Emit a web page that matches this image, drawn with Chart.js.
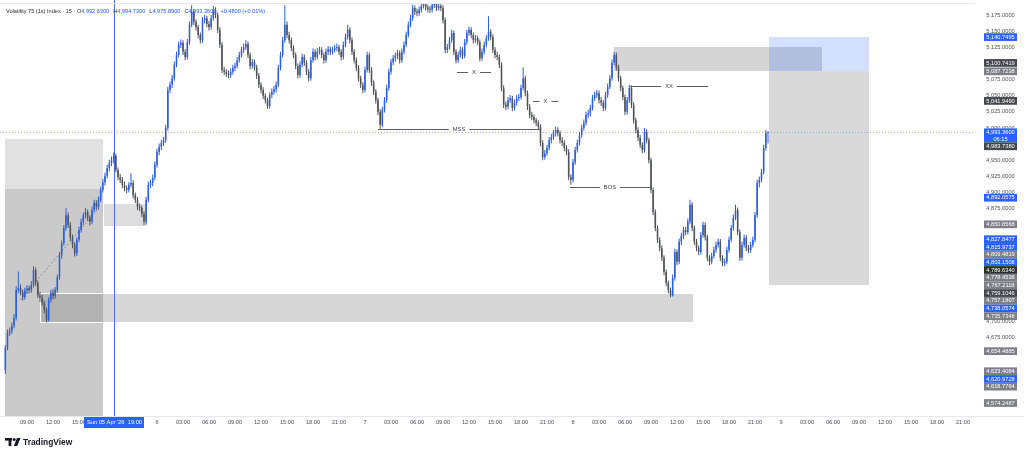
<!DOCTYPE html>
<html><head><meta charset="utf-8">
<script src="https://cdn.jsdelivr.net/npm/chart.js@4.4.1/dist/chart.umd.min.js"></script>
<style>html,body{margin:0;padding:0;background:#fff;overflow:hidden}#c{display:block}</style>
</head><body>
<canvas id="c" width="1024" height="456"></canvas>
<script>
// ---- time base: hours from Sun 05 Apr 00:00, 15-minute candles ----
const startHour = 6.5;
const stepHours = 0.25;

const opens = [
4625,4660,4683,4686,4694,4706,4749,4752,4746,4738,
4748,4752,4749,4757,4780,4760,4741,4737,4729,4718,
4703,4734,4745,4740,4749,4769,4803,4822,4845,4865,
4850,4830,4819,4806,4827,4842,4855,4865,4870,4861,
4855,4873,4884,4878,4889,4904,4916,4926,4938,4946,
4950,4957,4935,4924,4920,4912,4907,4904,4912,4915,
4896,4889,4878,4876,4867,4855,4889,4912,4915,4923,
4943,4963,4971,4977,4981,5000,5059,5067,5077,5098,
5113,5129,5132,5118,5110,5133,5160,5180,5164,5156,
5144,5136,5167,5170,5161,5156,5170,5183,5175,5152,
5129,5090,5087,5084,5082,5087,5093,5096,5105,5113,
5121,5125,5130,5113,5096,5102,5094,5081,5067,5059,
5050,5043,5034,5051,5056,5060,5067,5093,5113,5136,
5160,5144,5136,5124,5113,5096,5082,5098,5110,5101,
5087,5077,5105,5118,5110,5118,5121,5113,5105,5118,
5122,5118,5121,5124,5125,5118,5110,5129,5141,5152,
5136,5118,5105,5093,5077,5067,5059,5090,5113,5090,
5070,5056,5043,5025,5005,5028,5043,5062,5087,5102,
5108,5112,5116,5105,5118,5129,5144,5160,5170,5186,
5180,5178,5183,5189,5192,5187,5184,5183,5190,5192,
5186,5189,5186,5167,5121,5125,5136,5147,5118,5105,
5113,5121,5112,5133,5147,5152,5144,5136,5139,5133,
5108,5118,5129,5139,5149,5141,5121,5113,5110,5098,
5062,5036,5033,5043,5046,5031,5039,5046,5048,5062,
5077,5054,5033,5020,5017,5012,5008,5002,4977,4955,
4961,4969,4981,4986,4992,4997,4992,4981,4977,4969,
4963,4924,4920,4947,4966,4977,4989,5000,5008,5020,
5023,5031,5046,5051,5054,5043,5039,5031,5051,5064,
5077,5101,5113,5094,5077,5062,5048,5025,5043,5062,
5036,5012,4997,4985,4974,4966,4994,4981,4950,4904,
4870,4845,4827,4814,4799,4777,4760,4749,4741,4768,
4808,4793,4824,4833,4842,4839,4855,4881,4845,4824,
4814,4808,4834,4850,4831,4799,4793,4802,4811,4819,
4824,4799,4791,4793,4811,4827,4845,4861,4873,4839,
4799,4819,4830,4814,4811,4819,4827,4865,4915,4920,
4932,4969,4992.63];

const highs = [
4664,4688,4691,4699,4712,4755,4778,4758,4750,4753,
4757,4756,4763,4786,4784,4764,4746,4742,4733,4722,
4738,4749,4751,4754,4773,4808,4826,4850,4876,4869,
4854,4835,4823,4831,4847,4860,4869,4876,4874,4865,
4878,4889,4888,4894,4909,4921,4931,4943,4951,4956,
4962,4960,4939,4929,4924,4917,4911,4916,4930,4919,
4900,4893,4883,4880,4871,4893,4917,4920,4928,4948,
4968,4976,4982,4986,5005,5064,5072,5082,5103,5118,
5134,5137,5136,5122,5138,5165,5190,5184,5168,5160,
5148,5172,5175,5174,5166,5175,5189,5187,5179,5156,
5133,5095,5091,5089,5092,5098,5101,5110,5118,5126,
5131,5136,5134,5117,5107,5106,5098,5085,5071,5063,
5054,5047,5055,5061,5065,5072,5098,5118,5141,5190,
5165,5149,5140,5128,5117,5100,5103,5115,5114,5105,
5091,5110,5123,5122,5124,5126,5125,5117,5123,5127,
5126,5126,5129,5131,5129,5122,5134,5146,5160,5156,
5140,5122,5109,5097,5081,5071,5095,5118,5117,5094,
5074,5060,5047,5029,5033,5048,5067,5092,5107,5113,
5117,5121,5120,5123,5134,5149,5165,5175,5191,5190,
5185,5188,5193,5196,5196,5191,5189,5195,5196,5196,
5194,5193,5190,5171,5130,5141,5152,5151,5122,5118,
5126,5125,5138,5152,5157,5156,5148,5144,5143,5137,
5123,5134,5144,5173,5153,5145,5125,5118,5114,5102,
5066,5041,5048,5051,5050,5044,5051,5053,5067,5094,
5081,5058,5037,5025,5021,5016,5012,5006,4981,4966,
4974,4986,4991,4997,5002,5001,4996,4986,4981,4973,
4967,4928,4952,4971,4982,4994,5005,5013,5025,5028,
5036,5051,5056,5059,5058,5048,5043,5056,5069,5082,
5106,5118,5117,5098,5081,5066,5052,5048,5067,5066,
5040,5016,5001,4989,4978,5000,4998,4985,4954,4908,
4874,4849,4831,4818,4803,4781,4764,4753,4773,4813,
4812,4829,4838,4847,4847,4860,4889,4885,4849,4828,
4818,4839,4855,4854,4835,4803,4807,4816,4824,4829,
4828,4803,4798,4816,4832,4850,4866,4881,4877,4843,
4824,4835,4834,4819,4824,4832,4870,4920,4925,4937,
4974,4997,4994.73];

const lows = [
4619,4656,4678,4681,4690,4702,4744,4741,4733,4734,
4743,4744,4745,4753,4755,4737,4731,4725,4713,4699,
4700,4730,4735,4736,4745,4765,4798,4818,4841,4845,
4825,4814,4801,4802,4823,4838,4850,4860,4856,4849,
4851,4869,4873,4874,4885,4900,4911,4922,4933,4941,
4945,4931,4919,4915,4907,4902,4899,4900,4908,4891,
4884,4873,4871,4862,4850,4851,4885,4907,4910,4919,
4939,4958,4966,4972,4977,4996,5054,5062,5073,5094,
5109,5124,5113,5105,5106,5129,5156,5159,5151,5139,
5131,5132,5162,5156,5151,5152,5166,5170,5147,5124,
5085,5082,5079,5077,5078,5083,5088,5092,5101,5109,
5116,5121,5108,5091,5092,5089,5076,5062,5054,5045,
5038,5030,5030,5046,5052,5055,5063,5089,5109,5132,
5139,5131,5119,5108,5091,5077,5078,5094,5096,5082,
5072,5073,5101,5105,5106,5114,5108,5100,5101,5113,
5113,5114,5117,5119,5113,5105,5106,5125,5137,5131,
5113,5100,5088,5072,5062,5054,5055,5086,5085,5065,
5051,5038,5020,4998,5001,5024,5039,5058,5083,5097,
5103,5107,5100,5101,5114,5125,5140,5156,5166,5175,
5173,5174,5179,5185,5182,5179,5178,5179,5186,5181,
5182,5181,5162,5116,5116,5121,5132,5113,5100,5101,
5109,5107,5108,5129,5143,5139,5131,5132,5128,5103,
5104,5114,5125,5135,5136,5116,5108,5105,5093,5057,
5031,5028,5029,5039,5026,5027,5035,5042,5044,5058,
5049,5028,5015,5012,5007,5003,4997,4972,4950,4951,
4957,4965,4976,4982,4987,4987,4976,4972,4964,4958,
4919,4912,4916,4943,4962,4973,4985,4996,5004,5015,
5018,5027,5042,5047,5038,5034,5026,5027,5047,5060,
5073,5097,5089,5072,5057,5043,5020,5021,5039,5031,
5007,4992,4980,4969,4961,4962,4976,4945,4899,4865,
4840,4822,4809,4794,4772,4755,4744,4738,4739,4764,
4788,4789,4819,4828,4834,4835,4851,4840,4819,4809,
4803,4804,4830,4826,4794,4788,4789,4798,4807,4815,
4794,4786,4786,4789,4807,4823,4841,4857,4834,4794,
4795,4815,4809,4806,4807,4815,4823,4861,4908,4916,
4928,4965,4975.89];

const closes = [
4660,4683,4686,4694,4706,4749,4752,4746,4738,4748,
4752,4749,4757,4780,4760,4741,4737,4729,4718,4703,
4734,4745,4740,4749,4769,4803,4822,4845,4865,4850,
4830,4819,4806,4827,4842,4855,4865,4870,4861,4855,
4873,4884,4878,4889,4904,4916,4926,4938,4946,4950,
4957,4935,4924,4920,4912,4907,4904,4912,4915,4896,
4889,4878,4876,4867,4855,4889,4912,4915,4923,4943,
4963,4971,4977,4981,5000,5059,5067,5077,5098,5113,
5129,5132,5118,5110,5133,5160,5180,5164,5156,5144,
5136,5167,5170,5161,5156,5170,5183,5175,5152,5129,
5090,5087,5084,5082,5087,5093,5096,5105,5113,5121,
5125,5130,5113,5096,5102,5094,5081,5067,5059,5050,
5043,5034,5051,5056,5060,5067,5093,5113,5136,5160,
5144,5136,5124,5113,5096,5082,5098,5110,5101,5087,
5077,5105,5118,5110,5118,5121,5113,5105,5118,5122,
5118,5121,5124,5125,5118,5110,5129,5141,5152,5136,
5118,5105,5093,5077,5067,5059,5090,5113,5090,5070,
5056,5043,5025,5005,5028,5043,5062,5087,5102,5108,
5112,5116,5105,5118,5129,5144,5160,5170,5186,5180,
5178,5183,5189,5192,5187,5184,5183,5190,5192,5186,
5189,5186,5167,5121,5125,5136,5147,5118,5105,5113,
5121,5112,5133,5147,5152,5144,5136,5139,5133,5108,
5118,5129,5139,5149,5141,5121,5113,5110,5098,5062,
5036,5033,5043,5046,5031,5039,5046,5048,5062,5077,
5054,5033,5020,5017,5012,5008,5002,4977,4955,4961,
4969,4981,4986,4992,4997,4992,4981,4977,4969,4963,
4924,4920,4947,4966,4977,4989,5000,5008,5020,5023,
5031,5046,5051,5054,5043,5039,5031,5051,5064,5077,
5101,5113,5094,5077,5062,5048,5025,5043,5062,5036,
5012,4997,4985,4974,4966,4994,4981,4950,4904,4870,
4845,4827,4814,4799,4777,4760,4749,4741,4768,4808,
4793,4824,4833,4842,4839,4855,4881,4845,4824,4814,
4808,4834,4850,4831,4799,4793,4802,4811,4819,4824,
4799,4791,4793,4811,4827,4845,4861,4873,4839,4799,
4819,4830,4814,4811,4819,4827,4865,4915,4920,4932,
4969,4992.63,4993.36];

// ---- axis ticks ----
const priceTicks = [4575,4600,4625,4650,4675,4700,4725,4750,4775,4800,4825,4850,4875,4900,4925,4950,4975,5000,5025,5050,5075,5100,5125,5150,5175];
const timeTickHours = [9,12,15,18,24,27,30,33,36,39,42,45,48,51,54,57,60,63,66,69,72,75,78,81,84,87,90,93,96,99,102,105,108,111,114,117];
const timeTickLabels = ['09:00','12:00','15:00','18:00','6','03:00','06:00','09:00','12:00','15:00','18:00','21:00','7','03:00','06:00','09:00','12:00','15:00','18:00','21:00','8','03:00','06:00','09:00','12:00','15:00','18:00','21:00','9','03:00','06:00','09:00','12:00','15:00','18:00','21:00'];

// ---- price-axis labels ----
const markerPrices = [5140.7495,5100.7419,5087.7238,5041.9490,4993.3600,4983.7380,4892.0575,4850.8568,4827.8477,4815.9737,4809.4819,4803.1508,4789.6340,4778.4538,4767.2118,4759.1046,4757.1807,4738.0574,4735.7348,4654.4885,4623.4084,4620.9728,4618.7764,4574.2487];
const markerKinds  = ['blue','dark','gray','dark','current','dark','blue','gray','blue','blue','gray','blue','black','gray','gray','dark','gray','blue','gray','gray','gray','blue','gray','gray'];
const currentPrice = 4993.36;
const countdown = '06:15';
const crosshairHour = 19;
const crosshairLabel = "Sun 05 Apr '26";
const crosshairTime = '19:00';

// ---- drawings (time in hours, price) ----
const zoneStart  = [6.46, 6.46, 10.50, 17.77, 76.73, 94.62, 94.62];
const zoneEnd    = [17.77, 17.77, 85.96, 22.96, 100.73, 106.15, 106.15];
const zoneTop    = [4983.738, 4905.0, 4744.6, 4884.0, 5125.4, 5140.7495, 5087.7238];
const zoneBottom = [4554, 4554, 4698.1, 4847.0, 5087.7238, 5087.7238, 4757.1807];
const zoneFill   = ['rgba(128,128,128,0.24)','rgba(128,128,128,0.24)','rgba(128,128,128,0.32)','rgba(128,128,128,0.27)','rgba(128,128,128,0.33)','rgba(41,98,255,0.20)','rgba(128,128,128,0.30)'];
const zoneBorder = [null,null,'#ffffff','#ffffff',null,null,null];

const levelNames = ['MSS','X','X','BOS','XX'];
const levelPrice = [4998.5, 5086.7, 5041.949, 4908.7, 5065.0];
const levelStart = [49.50, 58.62, 67.38, 71.65, 78.58];
const levelEnd   = [68.20, 62.54, 70.27, 80.88, 87.58];

const trendFrom = [8.2, 4734];
const trendTo   = [17.1, 4873];

const titleText = 'Volatility 75 (1s) Index · 15 · ';
const ohlcLabels = ['O','H','L','C'];
const ohlcValues = ['4,992.6300','4,994.7300','4,975.8900','4,993.3600'];
const changeText = '+0.4800 (+0.01%)';

// ---------------------------------------------------------------
const UP = '#2d5fd8', DOWN = '#4f525a', BLUE = '#2962ff';
const FONT = '"Liberation Sans", Arial, sans-serif';
const times = opens.map((_, i) => startHour + i * stepHours);
const candleColors = closes.map((c, i) => c >= opens[i] ? UP : DOWN);
const fmt = v => v.toLocaleString('en-US', {minimumFractionDigits: 4, maximumFractionDigits: 4});

function markerBoxes(yScale) {
  const H = 7.7;
  const list = markerPrices.map((p, i) => {
    const yy = yScale.getPixelForValue(p);
    const cur = markerKinds[i] === 'current';
    return {p, kind: markerKinds[i], yy, top: yy - H / 2, h: cur ? 14 : H};
  }).sort((a, b) => a.top - b.top);
  let prevBottom = -1e9;
  list.forEach(b => { if (b.top < prevBottom) b.top = prevBottom; prevBottom = b.top + b.h; });
  return list;
}

const overlay = {
  id: 'overlay',
  beforeDatasetsDraw(chart) {
    const {ctx, chartArea: a, scales: {x, y}} = chart;
    ctx.save();
    ctx.beginPath(); ctx.rect(a.left, a.top, a.right - a.left, a.bottom - a.top); ctx.clip();
    for (let i = 0; i < zoneStart.length; i++) {
      const x0 = Math.round(x.getPixelForValue(zoneStart[i])), x1 = Math.round(x.getPixelForValue(zoneEnd[i]));
      const y0 = Math.round(y.getPixelForValue(zoneTop[i])), y1 = Math.round(y.getPixelForValue(zoneBottom[i]));
      ctx.fillStyle = zoneFill[i];
      ctx.fillRect(x0, y0, x1 - x0, y1 - y0);
      if (zoneBorder[i]) { ctx.strokeStyle = zoneBorder[i]; ctx.lineWidth = 1; ctx.strokeRect(x0 + 0.5, y0 + 0.5, x1 - x0 - 1, y1 - y0 - 1); }
    }
    // current price dotted line
    const cy = Math.round(y.getPixelForValue(currentPrice)) + 0.5;
    ctx.strokeStyle = 'rgba(41,98,255,0.45)'; ctx.lineWidth = 1; ctx.setLineDash([1, 2]);
    ctx.beginPath(); ctx.moveTo(a.left, cy); ctx.lineTo(a.right, cy); ctx.stroke();
    // dashed trend line
    ctx.strokeStyle = 'rgba(110,110,110,0.7)'; ctx.setLineDash([2, 2]);
    ctx.beginPath(); ctx.moveTo(x.getPixelForValue(trendFrom[0]), y.getPixelForValue(trendFrom[1]));
    ctx.lineTo(x.getPixelForValue(trendTo[0]), y.getPixelForValue(trendTo[1])); ctx.stroke();
    ctx.setLineDash([]);
    ctx.restore();
  },
  afterDatasetsDraw(chart) {
    const {ctx, chartArea: a, scales: {x, y}} = chart;
    ctx.save();
    ctx.font = '5.8px ' + FONT; ctx.textBaseline = 'middle'; ctx.textAlign = 'center';
    for (let i = 0; i < levelNames.length; i++) {
      const yy = Math.round(y.getPixelForValue(levelPrice[i])) + 0.5;
      const x0 = x.getPixelForValue(levelStart[i]), x1 = x.getPixelForValue(levelEnd[i]);
      const xm = (x0 + x1) / 2, w = ctx.measureText(levelNames[i]).width / 2 + 4;
      ctx.strokeStyle = '#5d6068'; ctx.lineWidth = 1;
      ctx.beginPath(); ctx.moveTo(x0, yy); ctx.lineTo(xm - w, yy); ctx.moveTo(xm + w, yy); ctx.lineTo(x1, yy); ctx.stroke();
      ctx.fillStyle = '#3c3f47'; ctx.fillText(levelNames[i], xm, yy + 0.3);
    }
    // crosshair vertical line
    const cx = Math.round(x.getPixelForValue(crosshairHour)) + 0.5;
    ctx.strokeStyle = '#4a6fdc'; ctx.lineWidth = 1;
    ctx.beginPath(); ctx.moveTo(cx, 0); ctx.lineTo(cx, a.bottom); ctx.stroke();
    ctx.restore();
  },
  afterDraw(chart) {
    const {ctx, chartArea: a, scales: {x, y}} = chart;
    ctx.save();
    // pane borders
    ctx.strokeStyle = '#e6e8ee'; ctx.lineWidth = 1;
    ctx.beginPath(); ctx.moveTo(0, a.top - 0.5); ctx.lineTo(a.right, a.top - 0.5);
    ctx.moveTo(0, a.bottom + 0.5); ctx.lineTo(1024, a.bottom + 0.5); ctx.stroke();

    // price ticks
    const boxes = markerBoxes(y);
    ctx.font = '5.7px ' + FONT; ctx.textAlign = 'center'; ctx.textBaseline = 'middle';
    ctx.fillStyle = '#50535e';
    priceTicks.forEach(p => {
      const yy = y.getPixelForValue(p);
      if (boxes.some(b => yy >= b.top && yy <= b.top + b.h)) return;
      ctx.fillText(fmt(p), 1000.5, yy);
    });
    const bg = {blue: BLUE, current: BLUE, dark: '#45474e', black: '#2b2c30', gray: '#7d7f86'};
    boxes.forEach(b => {
      ctx.fillStyle = bg[b.kind];
      ctx.fillRect(984, b.top, 33, b.h);
      ctx.fillStyle = '#ffffff';
      ctx.fillText(fmt(b.p), 1000.5, b.top + 3.9);
      if (b.kind === 'current') ctx.fillText(countdown, 1000.5, b.top + 10.6);
    });

    // time ticks
    ctx.fillStyle = '#50535e'; ctx.font = '5.7px ' + FONT;
    timeTickHours.forEach((h, i) => ctx.fillText(timeTickLabels[i], x.getPixelForValue(h), 422.5));
    // crosshair time label
    const cx = x.getPixelForValue(crosshairHour);
    ctx.fillStyle = BLUE; ctx.fillRect(Math.round(cx - 30), 417, 60, 11);
    ctx.fillStyle = '#ffffff';
    ctx.textAlign = 'left'; ctx.fillText(crosshairLabel, Math.round(cx - 27), 422.5);
    ctx.textAlign = 'right'; ctx.fillText(crosshairTime, Math.round(cx + 28), 422.5);

    // header
    ctx.textAlign = 'left'; ctx.font = '5.6px ' + FONT;
    let hx = 6; const hy = 11;
    ctx.fillStyle = '#2a2e39'; ctx.fillText(titleText, hx, hy); hx += ctx.measureText(titleText).width;
    ohlcLabels.forEach((l, i) => {
      ctx.fillStyle = '#2a2e39'; ctx.fillText(l, hx, hy); hx += ctx.measureText(l).width;
      ctx.fillStyle = BLUE; ctx.fillText(ohlcValues[i], hx, hy); hx += ctx.measureText(ohlcValues[i]).width + 4;
    });
    ctx.fillStyle = BLUE; ctx.fillText(changeText, hx, hy);

    // TradingView logo
    ctx.fillStyle = '#131722';
    ctx.fillRect(5, 438, 7, 2.6); ctx.fillRect(8.6, 438, 2.8, 8);
    ctx.beginPath(); ctx.arc(14.2, 439.4, 1.5, 0, Math.PI * 2); ctx.fill();
    ctx.beginPath(); ctx.moveTo(17, 438); ctx.lineTo(20.5, 438); ctx.lineTo(17.2, 446); ctx.lineTo(13.8, 446); ctx.closePath(); ctx.fill();
    ctx.font = 'bold 8.4px ' + FONT; ctx.textBaseline = 'middle';
    ctx.fillText('TradingView', 23, 442.5);
    ctx.restore();
  }
};

new Chart(document.getElementById('c'), {
  type: 'bar',
  data: {
    datasets: [
      {label: 'wick', data: times.map((t, i) => ({x: t, y: [lows[i], highs[i]]})), backgroundColor: candleColors,
       grouped: false, maxBarThickness: 1, borderWidth: 0, order: 2},
      {label: 'body', data: times.map((t, i) => ({x: t, y: [opens[i], closes[i]]})), backgroundColor: candleColors,
       grouped: false, maxBarThickness: 1.6, minBarLength: 1, borderWidth: 0, order: 1}
    ]
  },
  options: {
    responsive: false, animation: false, devicePixelRatio: 1,
    layout: {padding: {left: 0, right: 49, top: 4, bottom: 40}},
    scales: {
      x: {type: 'linear', min: 5.885, max: 118.385, offset: false, display: false},
      y: {type: 'linear', min: 4554.1, max: 5192.0, display: false}
    },
    plugins: {legend: {display: false}, tooltip: {enabled: false}}
  },
  plugins: [overlay]
});
</script>
</body></html>
